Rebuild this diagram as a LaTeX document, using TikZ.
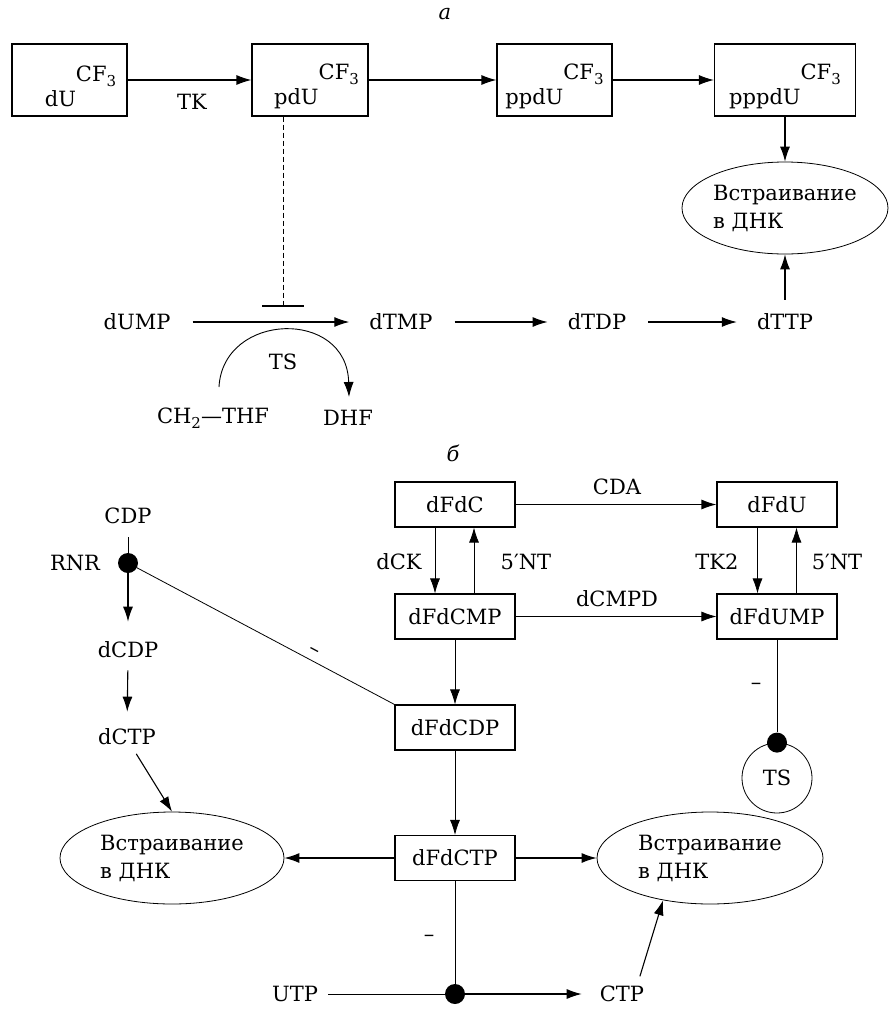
\documentclass[tikz,border=0pt]{standalone}
\usepackage{fontspec}
\setmainfont{DejaVu Serif}
\usetikzlibrary{arrows.meta,shapes.geometric}
\newcommand\mysubs[1]{\raisebox{-0.45ex}{\fontsize{15}{15}\selectfont #1}}
\newcommand\cfthree{\raisebox{25pt}{CF\mysubs{3}}\rule{0pt}{54pt}}
\begin{document}
\begin{tikzpicture}[x=1pt,y=-1pt,font=\fontsize{21}{28}\selectfont,
  cfbox/.style={draw,line width=1.1pt,minimum height=72pt,inner sep=0pt},
  box/.style={draw,line width=1.1pt,minimum width=120pt,minimum height=45pt,inner sep=0pt},
  lbl/.style={inner sep=0pt},
  oval/.style={draw,ellipse,line width=0.8pt,inner sep=0pt,minimum height=92pt,align=left},
  arr/.style={line width=1.1pt,-{Latex[length=15pt,width=10pt]}},
  tarr/.style={line width=0.8pt,-{Latex[length=15pt,width=10pt]}},
  ln/.style={line width=0.8pt},
  dot/.style={circle,fill=black,minimum size=20pt,inner sep=0pt},
  row/.style={arr,shorten <=22pt,shorten >=20pt}]
\useasboundingbox (0,0) rectangle (890,1010);

% ---------- part a ----------
\node[lbl] (la) at (445,14) {\itshape a};
\node[cfbox,minimum width=115pt] (dU) at (69.5,80) {\hspace{22pt}dU\cfthree};
\node[cfbox,minimum width=116pt] (pdU) at (310,80) {\hspace{13pt}pdU\cfthree};
\node[cfbox,minimum width=115pt] (ppdU) at (554.5,80) {ppdU\cfthree};
\node[cfbox,minimum width=141pt] (pppdU) at (785,80) {pppdU\cfthree};
\draw[arr] (dU) -- (pdU);
\draw[arr] (pdU) -- (ppdU);
\draw[arr] (ppdU) -- (pppdU);
\node[lbl] (TK) at (192,102) {TK};

\node[oval,minimum width=206pt] (dna1) at (785,208) {Встраивание\\в ДНК};
\draw[arr] (pppdU) -- (dna1);

\node[lbl] (dUMP) at (137,322) {dUMP};
\node[lbl] (dTMP) at (401,322) {dTMP};
\node[lbl] (dTDP) at (597,322) {dTDP};
\node[lbl] (dTTP) at (785,322) {dTTP};
\draw[row] (dUMP) -- (dTMP);
\draw[row] (dTMP) -- (dTDP);
\draw[row] (dTDP) -- (dTTP);
\draw[arr,shorten <=14pt] (dTTP.north) -- (dna1.south);

\coordinate (tbar) at (283,306);
\draw[line width=0.8pt,dash pattern=on 5pt off 3pt] ([xshift=-27pt]pdU.south) -- (tbar);
\draw[line width=1.3pt] ([xshift=-21pt]tbar) -- ([xshift=21pt]tbar);

\node[lbl] (TS1) at (283,362) {TS};
\node[lbl] (THF) at (213,418) {CH\mysubs{2}—THF};
\node[lbl] (DHF) at (348,418) {DHF};
\coordinate (arcS) at (219,387);
\coordinate (arcE) at (349,397);
\draw[line width=0.9pt,-{Latex[length=15pt,width=10pt]}] (arcS) .. controls (223,312) and (347,308) .. (arcE);

% ---------- part b ----------
\node[lbl] (lb) at (453,453) {\itshape б};
\node[box] (dFdC) at (455,504.5) {dFdC};
\node[box] (dFdU) at (777,504.5) {dFdU};
\node[box] (dFdCMP) at (455,616.5) {dFdCMP};
\node[box] (dFdUMP) at (777,616.5) {dFdUMP};
\node[box] (dFdCDP) at (455,727.5) {dFdCDP};
\node[box] (dFdCTP) at (455,858) {dFdCTP};

\draw[arr] (dFdC) -- (dFdU);
\node[lbl] (CDA) at (617,487) {CDA};
\draw[tarr] (dFdCMP) -- (dFdUMP);
\node[lbl] (dCMPD) at (617,599) {dCMPD};

\draw[tarr] ([xshift=-20pt]dFdC.south) -- ([xshift=-20pt]dFdCMP.north);
\draw[tarr] ([xshift=19pt]dFdCMP.north) -- ([xshift=19pt]dFdC.south);
\node[lbl] (dCK) at (399,562) {dCK};
\node[lbl] (nt1) at (526,562) {5′NT};
\draw[tarr] ([xshift=-19.5pt]dFdU.south) -- ([xshift=-19.5pt]dFdUMP.north);
\draw[tarr] ([xshift=19.5pt]dFdUMP.north) -- ([xshift=19.5pt]dFdU.south);
\node[lbl] (TK2) at (717,562) {TK2};
\node[lbl] (nt2) at (837,562) {5′NT};

\draw[tarr] (dFdCMP) -- (dFdCDP);
\draw[tarr] (dFdCDP) -- (dFdCTP);

\node[circle,draw,line width=0.8pt,minimum size=70pt,inner sep=0pt] (TS2) at (777,778) {TS};
\node[dot] (d2) at (TS2.north) {};
\draw[ln] (dFdUMP.south) -- (d2);
\node[lbl] (m2) at (756,686) {–};

\node[lbl] (CDP) at (128,516) {CDP};
\node[dot] (d1) at (128,563) {};
\node[lbl] (RNR) at (75,563) {RNR};
\node[lbl] (dCDP) at (128,650) {dCDP};
\node[lbl] (dCTP) at (127,737) {dCTP};
\draw[ln,shorten <=13pt] (CDP.south) -- (d1);
\draw[arr,shorten >=20pt] (d1) -- (dCDP.north);
\draw[arr,shorten <=12pt,shorten >=17pt] (dCDP.south) -- (dCTP.north);
\draw[ln] (d1) -- (dFdCDP.north west)
  node[pos=0.67,sloped,above=5pt,lbl] (m1) {–};

\node[oval,minimum width=224pt] (dna2) at (172,858) {Встраивание\\в ДНК};
\node[oval,minimum width=226pt] (dna3) at (710,858) {Встраивание\\в ДНК};
\draw[arr,shorten <=10pt] ([xshift=4pt]dCTP.south) -- (dna2.north);
\draw[arr] (dFdCTP) -- (dna2);
\draw[arr] (dFdCTP) -- (dna3);

\node[lbl] (UTP) at (295,994) {UTP};
\node[lbl] (CTP) at (622,994) {CTP};
\node[dot] (d3) at (455,994) {};
\draw[ln] (dFdCTP.south) -- (d3);
\draw[ln,shorten <=10pt] (UTP) -- (d3);
\draw[arr,shorten >=18pt] (d3) -- (CTP);
\node[lbl] (m3) at (429,938) {–};
\draw[arr,shorten <=10pt] ([xshift=15pt]CTP.north) -- (dna3.222);
\end{tikzpicture}
\end{document}
